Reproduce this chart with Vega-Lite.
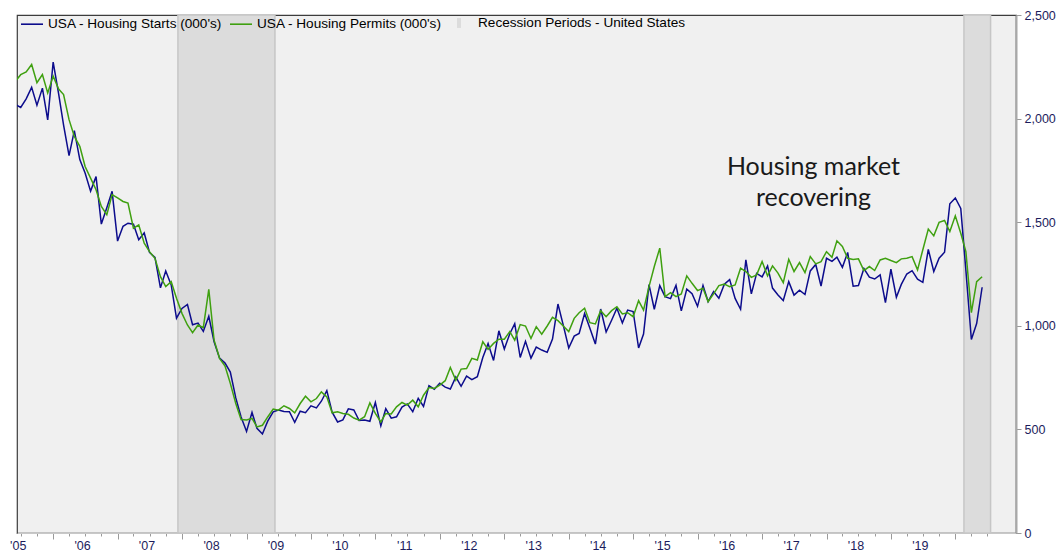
{
  "$schema": "https://vega.github.io/schema/vega-lite/v6.json",
  "width": 999,
  "height": 518,
  "autosize": {"type": "none"},
  "padding": {"left": 17, "top": 15, "right": 42, "bottom": 20},
  "background": "white",
  "config": {
    "view": {"fill": "#f0f0f0", "stroke": "#3c3c3c", "strokeWidth": 1.2},
    "font": "Liberation Sans"
  },
  "datasets": {
    "housing": [
      {"date":"2005-06-01","starts":2068,"permits":2180},{"date":"2005-07-01","starts":2054,"permits":2212},{"date":"2005-08-01","starts":2095,"permits":2225},{"date":"2005-09-01","starts":2151,"permits":2261},{"date":"2005-10-01","starts":2065,"permits":2173},{"date":"2005-11-01","starts":2147,"permits":2213},{"date":"2005-12-01","starts":1994,"permits":2124},
      {"date":"2006-01-01","starts":2273,"permits":2205},{"date":"2006-02-01","starts":2119,"permits":2143},{"date":"2006-03-01","starts":1969,"permits":2116},{"date":"2006-04-01","starts":1821,"permits":1995},{"date":"2006-05-01","starts":1942,"permits":1914},{"date":"2006-06-01","starts":1802,"permits":1866},{"date":"2006-07-01","starts":1737,"permits":1769},{"date":"2006-08-01","starts":1650,"permits":1713},{"date":"2006-09-01","starts":1720,"permits":1657},{"date":"2006-10-01","starts":1491,"permits":1576},{"date":"2006-11-01","starts":1570,"permits":1536},{"date":"2006-12-01","starts":1649,"permits":1633},
      {"date":"2007-01-01","starts":1409,"permits":1617},{"date":"2007-02-01","starts":1480,"permits":1600},{"date":"2007-03-01","starts":1495,"permits":1592},{"date":"2007-04-01","starts":1490,"permits":1471},{"date":"2007-05-01","starts":1415,"permits":1487},{"date":"2007-06-01","starts":1448,"permits":1399},{"date":"2007-07-01","starts":1354,"permits":1358},{"date":"2007-08-01","starts":1330,"permits":1326},{"date":"2007-09-01","starts":1183,"permits":1237},{"date":"2007-10-01","starts":1264,"permits":1189},{"date":"2007-11-01","starts":1197,"permits":1213},{"date":"2007-12-01","starts":1037,"permits":1133},
      {"date":"2008-01-01","starts":1084,"permits":1060},{"date":"2008-02-01","starts":1103,"permits":1004},{"date":"2008-03-01","starts":1005,"permits":967},{"date":"2008-04-01","starts":1013,"permits":1004},{"date":"2008-05-01","starts":973,"permits":991},{"date":"2008-06-01","starts":1046,"permits":1176},{"date":"2008-07-01","starts":923,"permits":931},{"date":"2008-08-01","starts":844,"permits":843},{"date":"2008-09-01","starts":820,"permits":806},{"date":"2008-10-01","starts":777,"permits":722},{"date":"2008-11-01","starts":652,"permits":625},{"date":"2008-12-01","starts":560,"permits":548},
      {"date":"2009-01-01","starts":490,"permits":545},{"date":"2009-02-01","starts":582,"permits":553},{"date":"2009-03-01","starts":505,"permits":512},{"date":"2009-04-01","starts":478,"permits":520},{"date":"2009-05-01","starts":540,"permits":560},{"date":"2009-06-01","starts":585,"permits":598},{"date":"2009-07-01","starts":594,"permits":593},{"date":"2009-08-01","starts":586,"permits":614},{"date":"2009-09-01","starts":585,"permits":601},{"date":"2009-10-01","starts":534,"permits":580},{"date":"2009-11-01","starts":588,"permits":625},{"date":"2009-12-01","starts":581,"permits":660},
      {"date":"2010-01-01","starts":614,"permits":633},{"date":"2010-02-01","starts":604,"permits":649},{"date":"2010-03-01","starts":636,"permits":681},{"date":"2010-04-01","starts":687,"permits":657},{"date":"2010-05-01","starts":583,"permits":580},{"date":"2010-06-01","starts":536,"permits":585},{"date":"2010-07-01","starts":546,"permits":577},{"date":"2010-08-01","starts":599,"permits":573},{"date":"2010-09-01","starts":594,"permits":555},{"date":"2010-10-01","starts":543,"permits":545},{"date":"2010-11-01","starts":545,"permits":561},{"date":"2010-12-01","starts":539,"permits":628},
      {"date":"2011-01-01","starts":630,"permits":577},{"date":"2011-02-01","starts":517,"permits":536},{"date":"2011-03-01","starts":600,"permits":577},{"date":"2011-04-01","starts":554,"permits":574},{"date":"2011-05-01","starts":561,"permits":609},{"date":"2011-06-01","starts":608,"permits":630},{"date":"2011-07-01","starts":623,"permits":617},{"date":"2011-08-01","starts":585,"permits":641},{"date":"2011-09-01","starts":650,"permits":609},{"date":"2011-10-01","starts":611,"permits":665},{"date":"2011-11-01","starts":711,"permits":702},{"date":"2011-12-01","starts":694,"permits":698},
      {"date":"2012-01-01","starts":723,"permits":714},{"date":"2012-02-01","starts":704,"permits":735},{"date":"2012-03-01","starts":695,"permits":799},{"date":"2012-04-01","starts":753,"permits":738},{"date":"2012-05-01","starts":708,"permits":791},{"date":"2012-06-01","starts":757,"permits":794},{"date":"2012-07-01","starts":740,"permits":843},{"date":"2012-08-01","starts":754,"permits":835},{"date":"2012-09-01","starts":847,"permits":923},{"date":"2012-10-01","starts":915,"permits":886},{"date":"2012-11-01","starts":833,"permits":915},{"date":"2012-12-01","starts":976,"permits":935},
      {"date":"2013-01-01","starts":888,"permits":935},{"date":"2013-02-01","starts":962,"permits":972},{"date":"2013-03-01","starts":1010,"permits":931},{"date":"2013-04-01","starts":847,"permits":1006},{"date":"2013-05-01","starts":925,"permits":999},{"date":"2013-06-01","starts":844,"permits":939},{"date":"2013-07-01","starts":897,"permits":996},{"date":"2013-08-01","starts":883,"permits":960},{"date":"2013-09-01","starts":872,"permits":999},{"date":"2013-10-01","starts":936,"permits":1041},{"date":"2013-11-01","starts":1105,"permits":1025},{"date":"2013-12-01","starts":1003,"permits":999},
      {"date":"2014-01-01","starts":893,"permits":972},{"date":"2014-02-01","starts":950,"permits":1036},{"date":"2014-03-01","starts":963,"permits":1063},{"date":"2014-04-01","starts":1059,"permits":1085},{"date":"2014-05-01","starts":988,"permits":1015},{"date":"2014-06-01","starts":912,"permits":1009},{"date":"2014-07-01","starts":1081,"permits":1073},{"date":"2014-08-01","starts":970,"permits":1044},{"date":"2014-09-01","starts":1027,"permits":1073},{"date":"2014-10-01","starts":1085,"permits":1092},{"date":"2014-11-01","starts":1014,"permits":1057},{"date":"2014-12-01","starts":1076,"permits":1063},
      {"date":"2015-01-01","starts":1069,"permits":1044},{"date":"2015-02-01","starts":893,"permits":1121},{"date":"2015-03-01","starts":960,"permits":1076},{"date":"2015-04-01","starts":1199,"permits":1189},{"date":"2015-05-01","starts":1080,"permits":1286},{"date":"2015-06-01","starts":1194,"permits":1375},{"date":"2015-07-01","starts":1141,"permits":1141},{"date":"2015-08-01","starts":1131,"permits":1160},{"date":"2015-09-01","starts":1195,"permits":1141},{"date":"2015-10-01","starts":1072,"permits":1154},{"date":"2015-11-01","starts":1177,"permits":1241},{"date":"2015-12-01","starts":1155,"permits":1205},
      {"date":"2016-01-01","starts":1094,"permits":1170},{"date":"2016-02-01","starts":1195,"permits":1181},{"date":"2016-03-01","starts":1117,"permits":1117},{"date":"2016-04-01","starts":1165,"permits":1154},{"date":"2016-05-01","starts":1133,"permits":1194},{"date":"2016-06-01","starts":1201,"permits":1201},{"date":"2016-07-01","starts":1223,"permits":1189},{"date":"2016-08-01","starts":1132,"permits":1197},{"date":"2016-09-01","starts":1080,"permits":1278},{"date":"2016-10-01","starts":1318,"permits":1262},{"date":"2016-11-01","starts":1154,"permits":1234},{"date":"2016-12-01","starts":1253,"permits":1246},
      {"date":"2017-01-01","starts":1236,"permits":1310},{"date":"2017-02-01","starts":1289,"permits":1241},{"date":"2017-03-01","starts":1182,"permits":1289},{"date":"2017-04-01","starts":1149,"permits":1254},{"date":"2017-05-01","starts":1122,"permits":1208},{"date":"2017-06-01","starts":1213,"permits":1321},{"date":"2017-07-01","starts":1148,"permits":1262},{"date":"2017-08-01","starts":1172,"permits":1305},{"date":"2017-09-01","starts":1151,"permits":1257},{"date":"2017-10-01","starts":1265,"permits":1334},{"date":"2017-11-01","starts":1296,"permits":1299},{"date":"2017-12-01","starts":1192,"permits":1310},
      {"date":"2018-01-01","starts":1326,"permits":1358},{"date":"2018-02-01","starts":1311,"permits":1331},{"date":"2018-03-01","starts":1331,"permits":1410},{"date":"2018-04-01","starts":1282,"permits":1383},{"date":"2018-05-01","starts":1354,"permits":1326},{"date":"2018-06-01","starts":1191,"permits":1320},{"date":"2018-07-01","starts":1194,"permits":1323},{"date":"2018-08-01","starts":1276,"permits":1266},{"date":"2018-09-01","starts":1235,"permits":1286},{"date":"2018-10-01","starts":1226,"permits":1267},{"date":"2018-11-01","starts":1246,"permits":1318},{"date":"2018-12-01","starts":1112,"permits":1326},
      {"date":"2019-01-01","starts":1273,"permits":1315},{"date":"2019-02-01","starts":1138,"permits":1305},{"date":"2019-03-01","starts":1200,"permits":1323},{"date":"2019-04-01","starts":1250,"permits":1326},{"date":"2019-05-01","starts":1266,"permits":1334},{"date":"2019-06-01","starts":1225,"permits":1270},{"date":"2019-07-01","starts":1210,"permits":1367},{"date":"2019-08-01","starts":1369,"permits":1467},{"date":"2019-09-01","starts":1262,"permits":1434},{"date":"2019-10-01","starts":1326,"permits":1499},{"date":"2019-11-01","starts":1355,"permits":1508},{"date":"2019-12-01","starts":1589,"permits":1455},
      {"date":"2020-01-01","starts":1617,"permits":1531},{"date":"2020-02-01","starts":1566,"permits":1447},{"date":"2020-03-01","starts":1267,"permits":1358},{"date":"2020-04-01","starts":934,"permits":1063},{"date":"2020-05-01","starts":1011,"permits":1213},{"date":"2020-06-01","starts":1186,"permits":1237}
    ],
    "recessions": [
      {"start":"2007-12-09","end":"2009-06-11"},
      {"start":"2020-02-19","end":"2020-07-19"}
    ],
    "notes": [
      {"date":"2017-10-19","value":1768,"label":"Housing market\nrecovering"}
    ]
  },
  "layer": [
    {
      "data": {"name": "recessions"},
      "mark": {"type": "rect", "stroke": "#c6c6c6", "strokeWidth": 1.5},
      "encoding": {
        "x": {
          "field": "start", "type": "temporal", "title": null,
          "scale": {"type": "utc", "domain": [{"year": 2005, "month": 6, "date": 10, "utc": true}, {"year": 2020, "month": 12, "date": 10, "utc": true}]},
          "axis": {
            "title": null,
            "tickCount": {"interval": "month", "step": 3},
            "labelExpr": "utcmonth(datum.value) == 6 && utcyear(datum.value) < 2020 ? \"'\" + utcFormat(datum.value, '%y') : ''",
            "labelOverlap": false,
            "labelFlush": false,
            "labelColor": "#1c1c5c",
            "labelFont": "Liberation Sans",
            "labelFontSize": 12.5,
            "labelPadding": 3,
            "labelOffset": -3,
            "tickColor": "#9a9a9a",
            "tickSize": {"condition": {"test": "utcmonth(datum.value) == 0", "value": 6}, "value": 3},
            "tickOpacity": {"condition": {"test": "datum.value > utc(2020, 7, 15)", "value": 0}, "value": 1},
            "domainColor": "#c8c8c8",
            "domainWidth": 1.2,
            "grid": false
          }
        },
        "x2": {"field": "end"},
        "fill": {
          "datum": "Recession Periods - United States",
          "scale": {"domain": ["Recession Periods - United States"], "range": ["#dcdcdc"]},
          "legend": {
            "title": null,
            "orient": "none",
            "legendX": 431,
            "legendY": -3,
            "padding": 0,
            "symbolType": "M-0.18,-0.45L0.18,-0.45L0.18,0.45L-0.18,0.45Z",
            "symbolSize": 484,
            "symbolFillColor": "#cdcdcd",
            "symbolStrokeColor": "#cdcdcd",
            "symbolStrokeWidth": 0,
            "labelOffset": 8,
            "labelFont": "Liberation Sans",
            "labelFontSize": 13.6,
            "labelColor": "#000000",
            "labelLimit": 400
          }
        }
      }
    },
    {
      "data": {"name": "housing"},
      "mark": {"type": "line", "clip": true, "strokeWidth": 1.5},
      "encoding": {
        "x": {"field": "date", "type": "temporal", "title": null},
        "y": {
          "field": "starts", "type": "quantitative", "title": null,
          "scale": {"domain": [0, 2500], "nice": false, "zero": true},
          "axis": {
            "title": null,
            "orient": "right",
            "values": [0, 500, 1000, 1500, 2000, 2500],
            "format": ",.0f",
            "labelColor": "#1c1c5c",
            "labelFont": "Liberation Sans",
            "labelFontSize": 12.5,
            "labelPadding": 3,
            "tickColor": "#9a9a9a",
            "tickSize": 5,
            "domainColor": "#a8a8a8",
            "domainWidth": 2,
            "grid": false
          }
        },
        "color": {
          "datum": "USA - Housing Starts (000's)",
          "scale": {
            "domain": ["USA - Housing Starts (000's)", "USA - Housing Permits (000's)"],
            "range": ["#0c0c8c", "#3fa010"]
          },
          "legend": {
            "title": null,
            "orient": "none",
            "legendX": 3,
            "legendY": -3,
            "direction": "horizontal",
            "padding": 0,
            "symbolType": "stroke",
            "symbolSize": 484,
            "symbolStrokeWidth": 1.6,
            "labelOffset": 4,
            "columnPadding": 3,
            "labelFont": "Liberation Sans",
            "labelFontSize": 13.6,
            "labelColor": "#000000",
            "labelLimit": 400
          }
        }
      }
    },
    {
      "data": {"name": "housing"},
      "mark": {"type": "line", "clip": true, "strokeWidth": 1.5},
      "encoding": {
        "x": {"field": "date", "type": "temporal", "title": null},
        "y": {"field": "permits", "type": "quantitative", "title": null},
        "color": {"datum": "USA - Housing Permits (000's)"}
      }
    },
    {
      "data": {"name": "notes"},
      "mark": {"type": "text", "font": "Lato", "fontSize": 25, "lineBreak": "\n", "lineHeight": 31, "align": "center", "baseline": "middle", "color": "#1a1a1a"},
      "encoding": {
        "x": {"field": "date", "type": "temporal", "title": null},
        "y": {"field": "value", "type": "quantitative", "title": null},
        "text": {"field": "label"}
      }
    }
  ]
}
